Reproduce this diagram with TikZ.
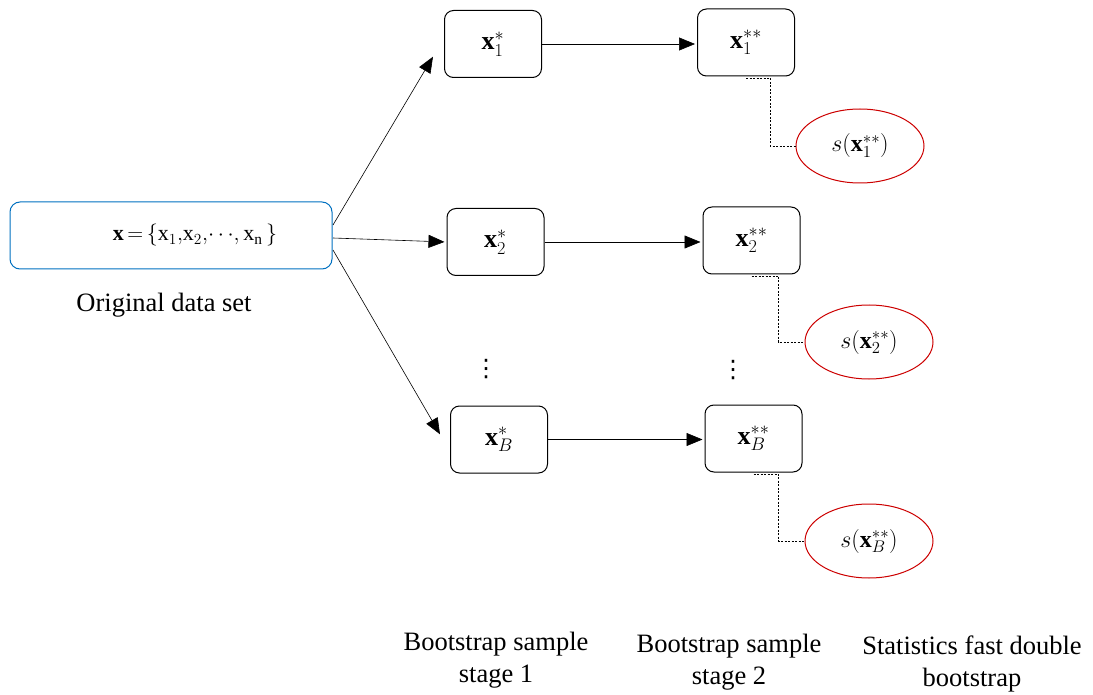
\RequirePackage{fix-cm}
\documentclass[tikz,border=0pt]{standalone}
\usepackage{fontspec}
\setmainfont{Liberation Serif}
\newfontfamily\djfont{DejaVu Sans}
\usetikzlibrary{arrows.meta,shapes.geometric}
\definecolor{boxblue}{RGB}{0,112,192}
\definecolor{ellred}{RGB}{204,0,0}
\begin{document}
\begin{tikzpicture}[x=1pt,y=-1pt,
  every node/.style={font=\fontsize{24}{28}\selectfont},
  sbox/.style={draw,rounded corners=9pt,line width=1pt,minimum width=97pt,minimum height=67pt,inner sep=0pt,font=\fontsize{26}{30}\selectfont},
  oval/.style={draw=ellred,ellipse,line width=1pt,minimum width=128pt,minimum height=74pt,inner sep=0pt},
  arr/.style={-{Triangle[length=16pt,width=13pt]},line width=0.6pt,shorten >=2pt},
  conn/.style={line width=0.6pt,dash pattern=on 2pt off 1.5pt},
  vdot/.style={font=\djfont\fontsize{24}{28}\selectfont,inner sep=0pt},
  lbl/.style={align=center,font=\fontsize{26.5}{32}\selectfont}]
\useasboundingbox (0,0) rectangle (1093,695);
\node[draw=boxblue,rounded corners=10pt,line width=1pt,minimum width=322pt,minimum height=67pt,inner sep=0pt,font=\fontsize{22}{28}\selectfont] (orig) at (171,235.5)
  {\hspace*{48pt}$\thickmuskip=3mu\mathbf{x}=\{\mathrm{x}_1,\!\mathrm{x}_2,\!\cdots\!,\mathrm{x}_{\mathrm{n}}\;\}$};
\node[lbl] (origlbl) at (164,305) {Original data set};
\node[sbox] (a1) at (493,44) {$\mathbf{x}_1^*$};
\node[sbox] (b1) at (746,42.5) {$\mathbf{x}_1^{**}$};
\node[sbox] (a2) at (495.5,242) {$\mathbf{x}_2^*$};
\node[sbox] (b2) at (751.5,240.5) {$\mathbf{x}_2^{**}$};
\node[sbox] (a3) at (499,439.5) {$\mathbf{x}_B^*$};
\node[sbox] (b3) at (753.5,438.5) {$\mathbf{x}_B^{**}$};
\node[oval] (s1) at (860,146) {$s(\mathbf{x}_1^{**})$};
\node[oval] (s2) at (869,342) {$s(\mathbf{x}_2^{**})$};
\node[oval] (s3) at (869,541) {$s(\mathbf{x}_B^{**})$};
\node[vdot] (d1) at (486,369.5) {⋮};
\node[vdot] (d2) at (733,370.5) {⋮};
\coordinate (o1) at (333,225);
\coordinate (o2) at (333,238);
\coordinate (o3) at (333,250);
\coordinate (t1) at (434,55);
\coordinate (t3) at (441,436);
\draw[arr] (o1) -- (t1);
\draw[arr] (o2) -- (a2.west);
\draw[arr] (o3) -- (t3);
\draw[arr] (a1.east) -- (b1.west |- a1.east);
\draw[arr] (a2.east) -- (b2.west |- a2.east);
\draw[arr] (a3.east) -- (b3.west |- a3.east);
\draw[conn] ([yshift=-1.5pt]b1.south) -- ++(24,0) |- (s1.west);
\draw[conn] ([yshift=-1.5pt]b2.south) -- ++(27,0) |- (s2.west);
\draw[conn] ([yshift=-1.5pt]b3.south) -- ++(25,0) |- (s3.west);
\node[lbl] (l1) at (496,660) {Bootstrap sample\\stage 1};
\node[lbl] (l2) at (729,662) {Bootstrap sample\\stage 2};
\node[lbl] (l3) at (972,664) {Statistics fast double\\bootstrap};
\end{tikzpicture}
\end{document}
